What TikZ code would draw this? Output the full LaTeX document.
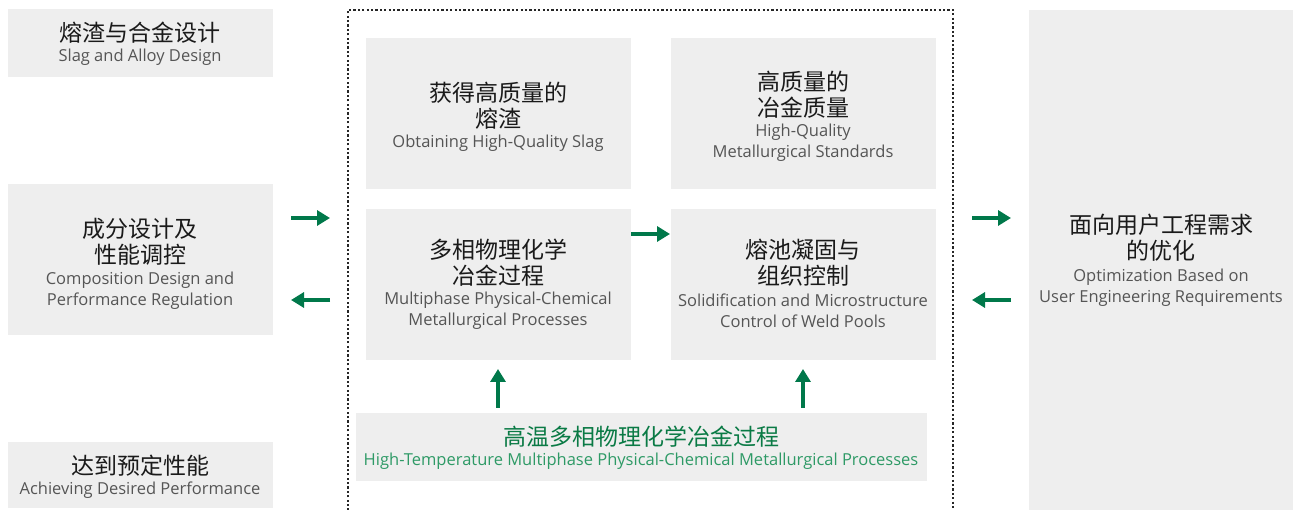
\documentclass[tikz,border=0pt]{standalone}
\usepackage{fontspec}
\setmainfont{Noto Sans CJK SC}
\newfontfamily\en{Open Sans}
\usetikzlibrary{arrows.meta}
\definecolor{boxgray}{HTML}{EEEEEE}
\definecolor{arrgreen}{HTML}{00784A}
\definecolor{txtgreen}{HTML}{0A7A45}
\definecolor{engreen}{HTML}{2E9A66}
\definecolor{engray}{HTML}{555555}
\definecolor{zh}{HTML}{1A1A1A}
\tikzset{
  gbox/.style={fill=boxgray, draw=none},
  zht/.style={font=\fontsize{23}{26}\selectfont, text=zh, align=center, inner sep=0pt},
  ent/.style={font=\en\fontsize{16.5}{21}\selectfont, text=engray, align=center, inner sep=0pt, yshift=-1.5pt},
  garrow/.style={draw=arrgreen, line width=4pt, -{Triangle[length=13pt,width=15pt]}},
  dotframe/.style={draw=black!85, line width=2.2pt, dash pattern=on 2.2pt off 2.2pt}
}
\begin{document}
\begin{tikzpicture}[x=1pt,y=-1pt]
\useasboundingbox (0,0) rectangle (1302,510);
% left boxes
\path[gbox] (8,9) rectangle (273,77);
\node[zht] (l1z) at (140,33) {熔渣与合金设计};
\node[ent] (l1e) at (140,56) {Slag and Alloy Design};
\path[gbox] (8,184) rectangle (273,335);
\node[zht] (l2z) at (140,242) {成分设计及\\性能调控};
\node[ent] (l2e) at (140,289) {Composition Design and\\Performance Regulation};
\path[gbox] (8,442) rectangle (273,508);
\node[zht] (l3z) at (140,466) {达到预定性能};
\node[ent] (l3e) at (140,489) {Achieving Desired Performance};
% dotted frame
\draw[dotframe] (348,515) -- (348,10) -- (953,10) -- (953,515);
% inner boxes
\path[gbox] (366,38) rectangle (631,189);
\node[zht] (a1z) at (498,106) {获得高质量的\\熔渣};
\node[ent] (a1e) at (498,142) {Obtaining High-Quality Slag};
\path[gbox] (671,38) rectangle (936,189);
\node[zht] (a2z) at (803,95) {高质量的\\冶金质量};
\node[ent] (a2e) at (803,141.5) {High-Quality\\Metallurgical Standards};
\path[gbox] (366,209) rectangle (631,360);
\node[zht] (b1z) at (498,263) {多相物理化学\\冶金过程};
\node[ent] (b1e) at (498,309.5) {Multiphase Physical-Chemical\\Metallurgical Processes};
\path[gbox] (671,209) rectangle (936,360);
\node[zht] (b2z) at (803,263) {熔池凝固与\\组织控制};
\node[ent] (b2e) at (803,309.5) {Solidification and Microstructure\\Control of Weld Pools};
\path[gbox] (356,413) rectangle (927,481);
\node[zht, text=txtgreen] (cz) at (641,437) {高温多相物理化学冶金过程};
\node[ent, text=engreen] (ce) at (641,460) {High-Temperature Multiphase Physical-Chemical Metallurgical Processes};
% right box
\path[gbox] (1029,10) rectangle (1293,510);
\node[zht] (rz) at (1161,238) {面向用户工程需求\\的优化};
\node[ent] (re) at (1161,286) {Optimization Based on\\User Engineering Requirements};
% arrows
\coordinate (p1s) at (291,218); \coordinate (p1e) at (330,218);
\coordinate (p2s) at (330,300); \coordinate (p2e) at (291,300);
\coordinate (p3s) at (631,234); \coordinate (p3e) at (670,234);
\coordinate (p4s) at (498,408); \coordinate (p4e) at (498,369);
\coordinate (p5s) at (803,408); \coordinate (p5e) at (803,369);
\coordinate (p6s) at (972,218); \coordinate (p6e) at (1011,218);
\coordinate (p7s) at (1011,300); \coordinate (p7e) at (972,300);
\foreach \i in {1,...,7} \draw[garrow] (p\i s) -- (p\i e);
\end{tikzpicture}
\end{document}
